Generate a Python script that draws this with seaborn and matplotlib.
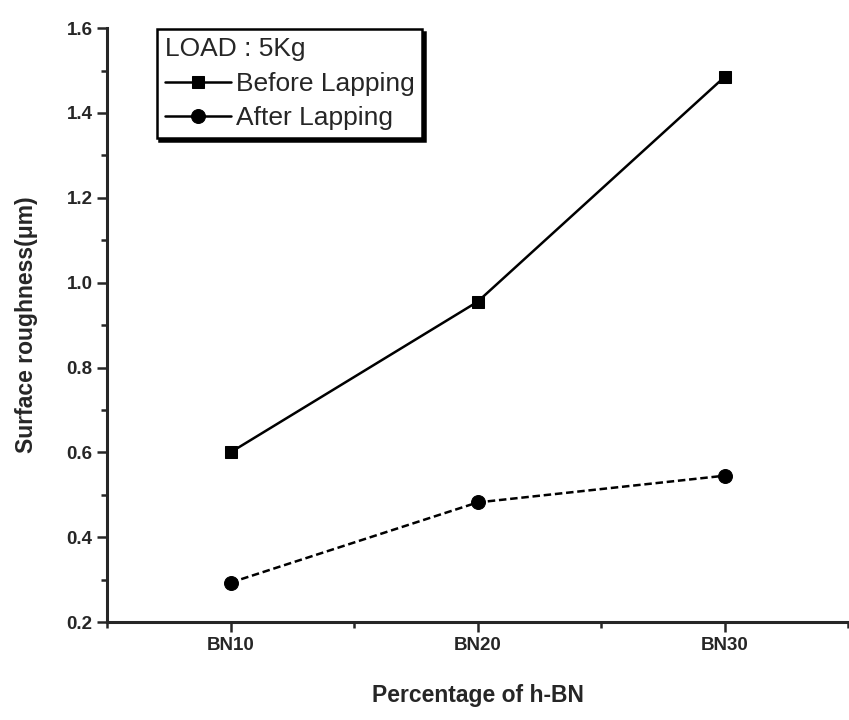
import matplotlib
matplotlib.use("Agg")
import matplotlib.pyplot as plt
import seaborn as sns
import pandas as pd
from matplotlib.ticker import MultipleLocator, FixedLocator

categories = ["BN10", "BN20", "BN30"]
before_lapping = [0.60, 0.955, 1.485]
after_lapping = [0.293, 0.482, 0.545]

sns.set_theme(style="ticks")
plt.rcParams['font.family'] = ['Liberation Sans', 'DejaVu Sans']

df = pd.DataFrame({
    "cat": categories * 2,
    "val": before_lapping + after_lapping,
    "series": ["Before Lapping"] * 3 + ["After Lapping"] * 3,
})

fig = plt.figure(figsize=(8.49, 7.2), dpi=100)
ax = fig.add_axes([0.126, 0.136, 0.873, 0.825])

sns.lineplot(data=df[df.series == "Before Lapping"], x="cat", y="val", ax=ax,
             color="black", lw=1.8, marker="s", markersize=9,
             markeredgecolor="black", label="Before Lapping")
sns.lineplot(data=df[df.series == "After Lapping"], x="cat", y="val", ax=ax,
             color="black", lw=1.8, marker="o", markersize=10,
             markeredgecolor="black", linestyle=(0, (3, 1.5)), label="After Lapping")

ax.set_xlim(-0.5, 2.5)
ax.set_ylim(0.2, 1.6)
ax.yaxis.set_major_locator(MultipleLocator(0.2))
ax.yaxis.set_minor_locator(MultipleLocator(0.1))
ax.xaxis.set_minor_locator(FixedLocator([-0.5, 0.5, 1.5, 2.5]))
ax.tick_params(which="major", direction="out", length=7, width=1.8, labelsize=13.5)
ax.tick_params(which="minor", direction="out", length=4, width=1.8)
ax.yaxis.set_major_formatter(matplotlib.ticker.FormatStrFormatter("%.1f"))
for lab in ax.get_xticklabels() + ax.get_yticklabels():
    lab.set_fontweight("bold")

sns.despine(ax=ax, top=True, right=True)
for s in ["left", "bottom"]:
    ax.spines[s].set_linewidth(2.2)

ax.set_xlabel("Percentage of h-BN", fontsize=16.5, fontweight="bold", labelpad=22)
ax.set_ylabel("Surface roughness(μm)", fontsize=16.5, fontweight="bold", labelpad=20)

handles, labels = ax.get_legend_handles_labels()
leg = ax.legend(handles, labels, title="LOAD : 5Kg", loc="upper left",
                bbox_to_anchor=(0.067, 0.998), fontsize=19, title_fontsize=19,
                frameon=True, fancybox=False, shadow={"color": "black", "alpha": 1.0},
                edgecolor="black", handlelength=2.5, handletextpad=0.2,
                borderpad=0.3, labelspacing=0.4, borderaxespad=0)
leg._legend_box.align = "left"
leg.get_frame().set_linewidth(1.8)
for h in leg.legend_handles:
    h.set_linestyle("-")

fig.savefig("out.png", dpi=100)
